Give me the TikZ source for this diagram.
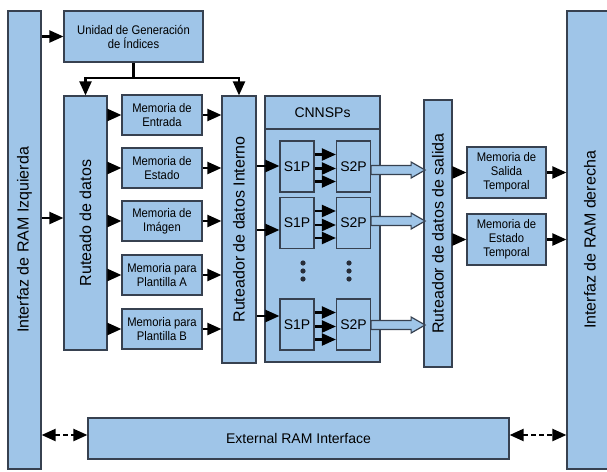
\documentclass[tikz,border=0pt]{standalone}
\usepackage{fontspec}
\setmainfont{Liberation Sans}
\newfontfamily\narrowfont[FakeStretch=0.9]{Liberation Sans}
\usepackage{graphicx}
\usetikzlibrary{arrows.meta,calc}
\definecolor{boxblue}{RGB}{159,197,232}
\definecolor{boxline}{RGB}{55,65,80}
\tikzset{
  blk/.style={draw=boxline, fill=boxblue, line width=1.2pt, inner sep=0pt, align=center},
  mem/.style={blk, font=\narrowfont\fontsize{12.5}{14}\selectfont, minimum width=80, minimum height=40},
  tall/.style={blk, font=\fontsize{16}{18}\selectfont},
  proc/.style={blk, font=\fontsize{14}{16}\selectfont, minimum width=34, minimum height=51},
  arr/.style={-{Triangle[length=14pt,width=12pt]}, line width=2.2pt},
  darr/.style={{Triangle[length=14pt,width=12pt]}-{Triangle[length=14pt,width=12pt]}, line width=2.2pt, dash pattern=on 5pt off 3pt},
  fatarrow/.style={draw=boxline, fill=boxblue, line width=1.2pt}
}
\begin{document}
\begin{tikzpicture}[x=1pt,y=-1pt]
    \useasboundingbox (0,0) rectangle (607,471);
    \node[tall, minimum width=33, minimum height=458] (ramL) at (24.5,240) {\rotatebox{90}{Interfaz de RAM Izquierda}};
    \node[tall, minimum width=46, minimum height=458] (ramR) at (590,240) {\rotatebox{90}{Interfaz de RAM derecha}};
    \node[mem, minimum width=139, minimum height=51] (uGen) at (133.5,36.5) {Unidad de Generación\\de Índices};
    \node[tall, minimum width=43, minimum height=254] (rData) at (85.5,223) {\rotatebox{90}{Ruteado de datos}};
    \node[mem] (mIn) at (162,115) {Memoria de\\Entrada};
    \node[mem] (mSt) at (162,168) {Memoria de\\Estado};
    \node[mem] (mImg) at (162,221) {Memoria de\\Imágen};
    \node[mem] (mPA) at (162,275) {Memoria para\\Plantilla A};
    \node[mem] (mPB) at (162,329) {Memoria para\\Plantilla B};
    \node[tall, minimum width=34, minimum height=267] (rInt) at (239,229.5) {\rotatebox{90}{Ruteador de datos Interno}};
    \node[blk, minimum width=115, minimum height=266] (cnn) at (322.5,229) {};
    \node[blk, font=\fontsize{14}{16}\selectfont, minimum width=115, minimum height=33, anchor=north] (cnnHead) at (cnn.north) {CNNSPs};
    \node[proc] (s1a) at (297,166.5) {S1P};
    \node[proc] (s2a) at (353.5,166.5) {S2P};
    \node[proc] (s1b) at (297,223) {S1P};
    \node[proc] (s2b) at (353.5,223) {S2P};
    \node[proc] (s1c) at (297,324.5) {S1P};
    \node[proc] (s2c) at (353.5,324.5) {S2P};
    \node[tall, minimum width=28, minimum height=267] (rOut) at (438,233.5) {\rotatebox{90}{Ruteador de datos de salida}};
    \node[mem, minimum width=79, minimum height=51] (mOut) at (506.5,172.5) {Memoria de\\Salida\\Temporal};
    \node[mem, minimum width=79, minimum height=51] (mTmp) at (506.5,239.5) {Memoria de\\Estado\\Temporal};
    \node[blk, font=\fontsize{14}{16}\selectfont, minimum width=421, minimum height=41] (ext) at (298.5,438.5) {External RAM Interface};

    \foreach \x in {303,349}
      \foreach \yy in {263,271,279}
        \fill[boxline!70!black] (\x,\yy) circle (2.6);

    \draw[arr] (ramL.east |- uGen.west) -- (uGen.west);
    \draw[arr] (ramL.east |- 0,218) -- (rData.west |- 0,218);
    \coordinate (bus) at (uGen.south |- 0,78);
    \draw[line width=2.2pt] (uGen.south) -- (bus);
    \draw[arr] (bus) -| (rData.north);
    \draw[arr] (bus) -| (rInt.north);
    \foreach \m in {mIn,mSt,mImg,mPA,mPB} {
      \draw[arr] (rData.east |- \m.west) -- (\m.west);
      \draw[arr] (\m.east) -- (rInt.west |- \m.east);
    }
    \foreach \s/\yy in {s1a/166,s1b/230,s1c/316}
      \draw[arr] (rInt.east |- 0,\yy) -- (\s.west |- 0,\yy);
    \foreach \r in {a,b,c}
      \foreach \dy in {-12,2,15}
        \draw[arr] ($(s1\r.east)+(0,\dy)$) -- ($(s2\r.west)+(0,\dy)$);
    \foreach \s/\yy in {s2a/170,s2b/221,s2c/325}
      \draw[fatarrow] (\s.east |- 0,\yy) ++(0,-4.5) -- ++(40,0) -- ++(0,-3.5) -- ++(14,8) -- ++(-14,8) -- ++(0,-3.5) -- ++(-40,0) -- cycle;
    \foreach \m in {mOut,mTmp} {
      \draw[arr] (rOut.east |- \m.west) -- (\m.west);
      \draw[arr] (\m.east) -- (ramR.west |- \m.east);
    }
    \draw[darr] (ramL.east |- 0,435) -- (ext.west |- 0,435);
    \draw[darr] (ext.east |- 0,435) -- (ramR.west |- 0,435);
\end{tikzpicture}
\end{document}
